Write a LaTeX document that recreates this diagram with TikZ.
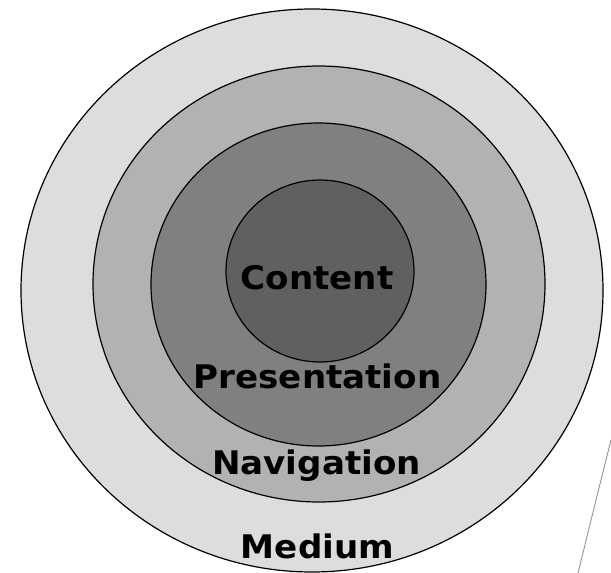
\documentclass[tikz,border=0pt]{standalone}
\usepackage{fontspec}
\setmainfont{DejaVu Sans}
\newfontfamily\labelfont[FakeStretch=1.05]{DejaVu Sans}
\begin{document}
\begin{tikzpicture}[x=1pt,y=-1pt,
  ring/.style={draw=black,line width=1.2pt},
  layer/.style={font=\labelfont\bfseries\fontsize{32.5}{36}\selectfont,anchor=base,inner sep=0pt}]
\useasboundingbox (0,0) rectangle (611,573);
% concentric layers, outermost first
\filldraw[ring,fill={rgb,255:red,221;green,221;blue,221}] (312,290.5) ellipse [x radius=291pt,y radius=281.5pt];
\filldraw[ring,fill={rgb,255:red,178;green,178;blue,178}] (319,284) ellipse [x radius=226pt,y radius=218pt];
\filldraw[ring,fill={rgb,255:red,128;green,128;blue,128}] (318.5,284.5) ellipse [x radius=167.5pt,y radius=161.5pt];
\filldraw[ring,fill={rgb,255:red,96;green,96;blue,96}] (320,271) ellipse [x radius=94pt,y radius=91pt];
% layer labels
\node[layer] (content) at (317,289) {Content};
\node[layer] (presentation) at (317.5,388) {Presentation};
\node[layer] (navigation) at (316.5,474) {Navigation};
\node[layer] (medium) at (317.5,558) {Medium};
% thin edge at the lower right
\coordinate (edgetop) at (611,440);
\coordinate (edgebot) at (578,573);
\draw[line width=0.9pt,color={rgb,255:red,150;green,150;blue,150}] (edgetop) .. controls (596,500) .. (edgebot);
\end{tikzpicture}
\end{document}
